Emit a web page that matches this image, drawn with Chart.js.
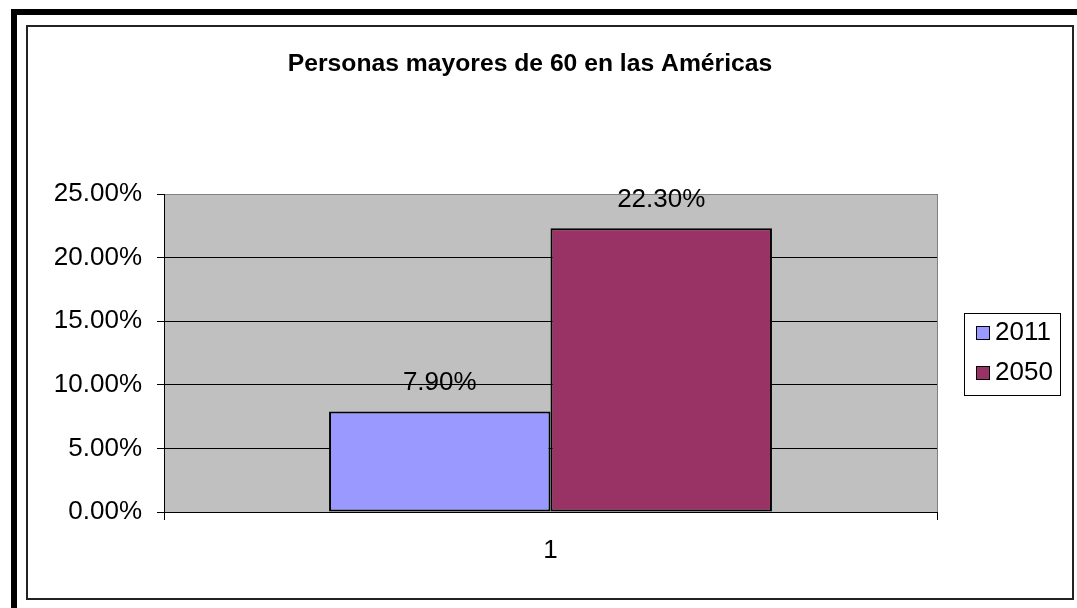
<!DOCTYPE html>
<html>
<head>
<meta charset="utf-8">
<script src="https://cdn.jsdelivr.net/npm/chart.js@4/dist/chart.umd.min.js"></script>
<style>
    body { margin: 0; background: #fff; width: 1077px; height: 608px; overflow: hidden; position: relative; }
    .bar-top { position: absolute; left: 11px; top: 9px; width: 1066px; height: 6px; background: #000; }
    .bar-left { position: absolute; left: 11px; top: 9px; width: 6px; height: 599px; background: #000; }
    .frame { position: absolute; left: 26px; top: 25px; width: 1044px; height: 571px; border: 2px solid #222; background: #fff; }
    #peopleChart { position: absolute; left: 0; top: 0; }
</style>
</head>
<body>
<div class="bar-top"></div>
<div class="bar-left"></div>
<div class="frame"></div>
<canvas id="peopleChart" width="1077" height="608"></canvas>
<script>
const chartTitle = 'Personas mayores de 60 en las Américas';
const categories = ['1'];
const seriesNames = ['2011', '2050'];
const seriesValues = [[7.9], [22.3]];
const seriesColors = ['#9999FF', '#993366'];
const tickValues = [0, 5, 10, 15, 20, 25];

const FONT = '"Liberation Sans", Arial, sans-serif';

function pct(v) {
    return Number(v).toFixed(2) + '%';
}

// gray plot background + title + value labels + legend box
const excelLook = {
    id: 'excelLook',
    beforeDraw(chart) {
        const a = chart.chartArea;
        const ctx = chart.ctx;
        ctx.save();
        ctx.fillStyle = '#C0C0C0';
        ctx.fillRect(a.left, a.top, a.right - a.left, a.bottom - a.top);
        ctx.restore();
    },
    afterDatasetsDraw(chart) {
        const ctx = chart.ctx;
        ctx.save();
        ctx.fillStyle = '#000';
        ctx.font = '26px ' + FONT;
        ctx.textAlign = 'center';
        ctx.textBaseline = 'middle';
        chart.data.datasets.forEach((ds, i) => {
            chart.getDatasetMeta(i).data.forEach((bar, j) => {
                ctx.fillText(pct(ds.data[j]), bar.x, bar.y - 29);
            });
        });
        ctx.restore();
    },
    afterDraw(chart) {
        const ctx = chart.ctx;
        ctx.save();
        // title
        ctx.fillStyle = '#000';
        ctx.font = 'bold 24.7px ' + FONT;
        ctx.textAlign = 'center';
        ctx.textBaseline = 'middle';
        ctx.fillText(chartTitle, 530, 64);

        // legend
        ctx.fillStyle = '#fff';
        ctx.fillRect(964.5, 313.5, 96, 82);
        ctx.strokeStyle = '#000';
        ctx.lineWidth = 1;
        ctx.strokeRect(964.5, 313.5, 96, 82);
        ctx.font = '26px ' + FONT;
        ctx.textAlign = 'left';
        chart.data.datasets.forEach((ds, i) => {
            const y = 326.5 + i * 40;
            ctx.fillStyle = ds.backgroundColor;
            ctx.fillRect(976.5, y, 13, 13);
            ctx.strokeRect(976.5, y, 13, 13);
            ctx.fillStyle = '#000';
            ctx.fillText(ds.label, 995, y + 6);
        });
        ctx.restore();
    }
};

const ctx = document.getElementById('peopleChart').getContext('2d');
const chart = new Chart(ctx, {
    type: 'bar',
    data: {
        labels: categories,
        datasets: seriesNames.map((name, i) => ({
            label: name,
            data: seriesValues[i],
            backgroundColor: seriesColors[i],
            borderColor: '#000',
            borderWidth: 2,
            borderSkipped: false,
            categoryPercentage: 0.573,
            barPercentage: 1
        }))
    },
    options: {
        responsive: false,
        animation: false,
        devicePixelRatio: 1,
        layout: {
            padding: { left: 0, top: 194, right: 140, bottom: 0 }
        },
        plugins: {
            legend: { display: false },
            title: { display: false },
            tooltip: { enabled: false }
        },
        scales: {
            x: {
                offset: true,
                grid: {
                    color: (c) => c.index === 0 ? '#000' : '#808080',
                    tickColor: '#000',
                    tickLength: 8,
                    lineWidth: 1
                },
                border: { color: '#000', width: 1 },
                ticks: {
                    color: '#000',
                    font: { family: FONT, size: 26 },
                    padding: 15
                },
                afterFit(axis) { axis.height = 96; }
            },
            y: {
                min: 0,
                max: 25,
                afterBuildTicks(axis) {
                    axis.ticks = tickValues.map(v => ({ value: v }));
                },
                grid: {
                    color: (c) => c.tick && c.tick.value === 25 ? '#808080' : '#000',
                    tickColor: '#000',
                    tickLength: 7,
                    lineWidth: 1
                },
                border: { color: '#000', width: 1 },
                ticks: {
                    color: '#000',
                    font: { family: FONT, size: 26 },
                    padding: 15,
                    callback: (v) => pct(v)
                },
                afterFit(axis) { axis.width = 164; }
            }
        }
    },
    plugins: [excelLook]
});
</script>
</body>
</html>
